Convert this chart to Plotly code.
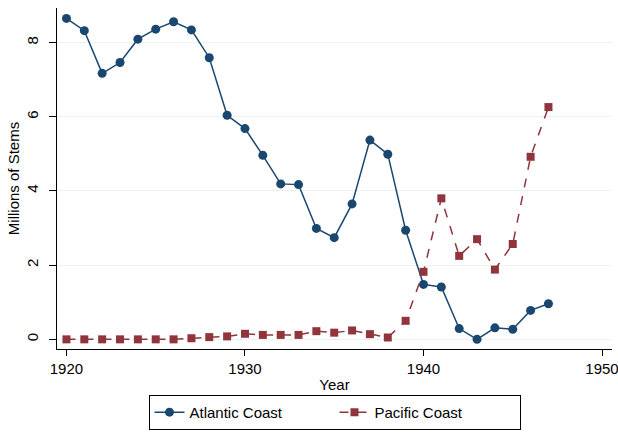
import plotly.graph_objects as go

years = list(range(1920, 1948))

atlantic = [
    8.65, 8.32, 7.17, 7.46, 8.09, 8.36, 8.56, 8.34, 7.59, 6.04,
    5.68, 4.96, 4.19, 4.17, 2.99, 2.74, 3.65, 5.37, 4.99, 2.94,
    1.48, 1.41, 0.29, 0.0, 0.31, 0.27, 0.78, 0.96,
]

pacific = [
    0.0, 0.0, 0.0, 0.0, 0.0, 0.0, 0.0, 0.03, 0.06, 0.08,
    0.15, 0.12, 0.12, 0.12, 0.22, 0.18, 0.24, 0.14, 0.05, 0.50,
    1.82, 3.80, 2.25, 2.70, 1.88, 2.57, 4.92, 6.26,
]

x_ticks = [1920, 1930, 1940, 1950]
y_ticks = [0, 2, 4, 6, 8]

NAVY = "#1a476f"
MAROON = "#90353b"

fig = go.Figure(
    data=[
        go.Scatter(
            x=years,
            y=atlantic,
            mode="lines+markers",
            line=dict(color=NAVY, width=1.5),
            marker=dict(symbol="circle", size=9, color=NAVY),
            name="Atlantic Coast",
        ),
        go.Scatter(
            x=years,
            y=pacific,
            mode="lines+markers",
            line=dict(color=MAROON, width=1.5, dash="dash"),
            marker=dict(symbol="square", size=8, color=MAROON),
            name="Pacific Coast",
        ),
    ]
)

fig.update_layout(
    width=618,
    height=433,
    margin=dict(l=57, r=6, t=8, b=84),
    font=dict(family="Liberation Sans, Arial, sans-serif", size=15, color="black"),
    plot_bgcolor="white",
    paper_bgcolor="white",
    showlegend=True,
    legend=dict(
        orientation="h",
        x=0.5,
        xref="paper",
        y=0.088,
        yref="container",
        xanchor="center",
        yanchor="top",
        bordercolor="black",
        borderwidth=1,
        font=dict(size=15),
        entrywidth=140,
    ),
    xaxis=dict(
        range=[1919.47, 1950.56],
        tickvals=x_ticks,
        automargin=False,
        showgrid=False,
        zeroline=False,
        showline=True,
        linecolor="black",
        linewidth=1,
        ticks="outside",
        ticklen=6,
        tickcolor="black",
        ticklabeloverflow="allow",
        tickfont=dict(size=15),
        title=dict(text="Year", standoff=3, font=dict(size=15)),
    ),
    yaxis=dict(
        range=[-0.26, 8.93],
        tickvals=y_ticks,
        tickangle=-90,
        automargin=False,
        showgrid=True,
        gridcolor="#eaf2f3",
        gridwidth=1,
        zeroline=False,
        showline=True,
        linecolor="black",
        linewidth=1,
        ticks="outside",
        ticklen=7,
        tickcolor="black",
        ticklabelstandoff=5,
        tickfont=dict(size=15),
        title=dict(text="Millions of Stems", standoff=0, font=dict(size=15)),
    ),
)

# page body has a default 8px margin; drop it so the figure fills the window
fig.write_html(
    "out.html",
    config={"displayModeBar": False},
    post_script="document.body.style.margin = '0';",
)
